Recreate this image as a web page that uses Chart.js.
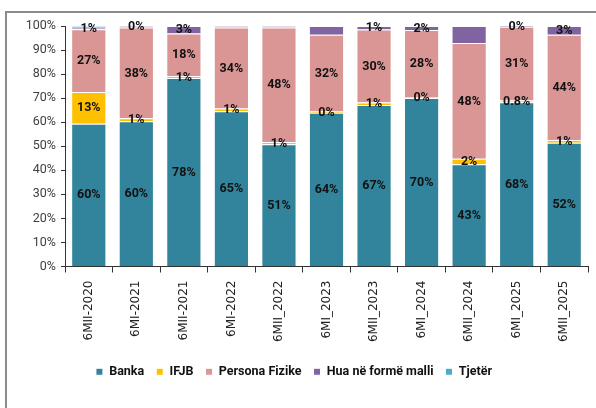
<!DOCTYPE html>
<html>
<head>
<meta charset="utf-8">
<script src="https://cdn.jsdelivr.net/npm/chart.js@4.4.1/dist/chart.umd.min.js"></script>
<style>
    html, body { margin: 0; padding: 0; background: #fff; }
    #wrap { position: relative; width: 596px; height: 408px; overflow: hidden; }
    #frame { position: absolute; left: 5px; top: 11px; width: 640px; height: 440px; border: 2px solid #8c8c8c; box-sizing: border-box; }
    #chart { position: absolute; left: 0; top: 0; }
</style>
</head>
<body>
<div id="wrap">
    <div id="frame"></div>
    <canvas id="chart" width="596" height="408"></canvas>
</div>
<script>
const categories = ['6MII-2020', '6MI-2021', '6MII-2021', '6MI-2022', '6MII_2022', '6MI_2023', '6MII_2023', '6MI_2024', '6MII_2024', '6MI_2025', '6MII_2025'];

const banka = [59.4, 60.4, 78.4, 64.6, 50.8, 63.9, 67.1, 70.1, 42.5, 68.3, 51.5];
const ifjb = [13.2, 1.2, 0.8, 1.1, 1.0, 0.6, 1.1, 0.4, 2.3, 0.7, 1.1];
const persona = [26.1, 37.8, 17.7, 33.7, 47.6, 31.9, 30.3, 27.8, 48.1, 30.7, 43.8];
const hua = [0.6, 0.6, 3.1, 0.6, 0.6, 3.6, 1.5, 1.7, 7.1, 0.3, 3.6];
const tjeter = [0.7, 0, 0, 0, 0, 0, 0, 0, 0, 0, 0];

const bankaLabels = ['60%', '60%', '78%', '65%', '51%', '64%', '67%', '70%', '43%', '68%', '52%'];
const ifjbLabels = ['13%', '1%', '1%', '1%', '1%', '0%', '1%', '0%', '2%', '0.8%', '1%'];
const personaLabels = ['27%', '38%', '18%', '34%', '48%', '32%', '30%', '28%', '48%', '31%', '44%'];
const huaLabels = ['1%', '0%', '3%', '', '', '', '1%', '2%', '', '0%', '3%'];
const tjeterLabels = ['', '', '', '', '', '', '', '', '', '', ''];

const yTicks = [0, 10, 20, 30, 40, 50, 60, 70, 80, 90, 100];

const labelFont = 'Roboto, "Liberation Sans", sans-serif';

// draws the percentage text in the middle of each segment
const segmentLabels = {
    id: 'segmentLabels',
    afterDatasetsDraw(chart) {
        const ctx = chart.ctx;
        ctx.save();
        ctx.font = 'bold 12.5px ' + labelFont;
        ctx.fillStyle = '#111';
        ctx.textAlign = 'center';
        ctx.textBaseline = 'middle';
        chart.data.datasets.forEach((ds, i) => {
            const meta = chart.getDatasetMeta(i);
            meta.data.forEach((bar, j) => {
                const txt = ds.labels[j];
                if (!txt) return;
                ctx.fillText(txt, bar.x, (bar.y + bar.base) / 2 + 0.5);
            });
        });
        ctx.restore();
    }
};

function makeSet(label, data, labels, color) {
    return {
        label: label,
        data: data,
        labels: labels,
        backgroundColor: color,
        borderColor: '#ffffff',
        borderWidth: 1,
        borderSkipped: 'start',
        categoryPercentage: 1,
        barPercentage: 0.74
    };
}

new Chart(document.getElementById('chart').getContext('2d'), {
    type: 'bar',
    data: {
        labels: categories,
        datasets: [
            makeSet('Banka', banka, bankaLabels, '#31849B'),
            makeSet('IFJB', ifjb, ifjbLabels, '#FFC000'),
            makeSet('Persona Fizike', persona, personaLabels, '#DA9694'),
            makeSet('Hua në formë malli', hua, huaLabels, '#8064A2'),
            makeSet('Tjetër', tjeter, tjeterLabels, '#4BACC6')
        ]
    },
    options: {
        responsive: false,
        animation: false,
        layout: { padding: { top: 26, right: 8, left: 0, bottom: 20 } },
        plugins: {
            tooltip: { enabled: false },
            legend: {
                position: 'bottom',
                labels: {
                    boxWidth: 7,
                    boxHeight: 7,
                    padding: 12,
                    color: '#111',
                    font: { family: labelFont, size: 12.5, weight: 'bold' }
                }
            }
        },
        scales: {
            x: {
                stacked: true,
                afterFit: (scale) => { scale.height = 87; },
                grid: { offset: true, drawOnChartArea: false, drawTicks: true, tickLength: 6, color: '#333' },
                border: { display: true, color: '#333', width: 1 },
                ticks: {
                    minRotation: 90,
                    maxRotation: 90,
                    padding: 8,
                    color: '#222',
                    font: { family: '"DejaVu Sans", sans-serif', size: 12 }
                }
            },
            y: {
                stacked: true,
                min: 0,
                max: 100,
                afterFit: (scale) => { scale.width = 65; },
                afterBuildTicks: (scale) => { scale.ticks = yTicks.map(v => ({ value: v })); },
                grid: { drawOnChartArea: false, drawTicks: true, tickLength: 4, color: '#333' },
                border: { display: true, color: '#333', width: 1 },
                ticks: {
                    padding: 5,
                    color: '#404040',
                    font: { family: labelFont, size: 12.5 },
                    callback: (v) => v + '%'
                }
            }
        }
    },
    plugins: [segmentLabels]
});
</script>
</body>
</html>
